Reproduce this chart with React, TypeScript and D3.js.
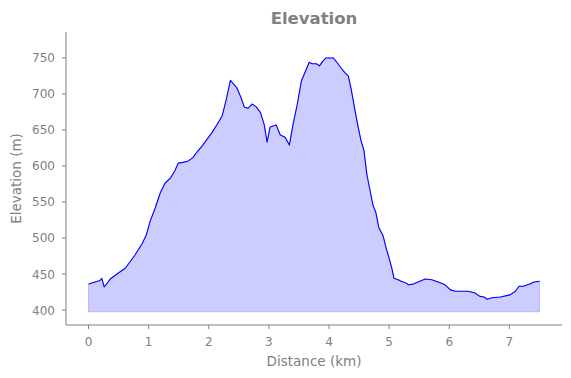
import React from "react";
import * as d3 from "d3";

const distanceKm = [0, 0.19, 0.22, 0.26, 0.36, 0.49, 0.61, 0.69, 0.77, 0.89, 0.96, 1.02, 1.11, 1.19, 1.27, 1.36, 1.44, 1.49, 1.57, 1.66, 1.74, 1.8, 1.89, 1.97, 2.05, 2.14, 2.22, 2.29, 2.36, 2.41, 2.47, 2.54, 2.59, 2.65, 2.72, 2.79, 2.86, 2.92, 2.97, 3.02, 3.12, 3.19, 3.27, 3.34, 3.4, 3.47, 3.54, 3.59, 3.67, 3.72, 3.79, 3.84, 3.9, 3.95, 4.07, 4.13, 4.2, 4.27, 4.32, 4.37, 4.43, 4.48, 4.53, 4.58, 4.63, 4.68, 4.73, 4.78, 4.83, 4.9, 4.95, 5.0, 5.05, 5.08, 5.15, 5.2, 5.27, 5.32, 5.4, 5.48, 5.6, 5.71, 5.85, 5.93, 6.02, 6.1, 6.21, 6.31, 6.42, 6.51, 6.58, 6.63, 6.71, 6.85, 7.01, 7.1, 7.16, 7.23, 7.34, 7.41, 7.5];
const elevationM = [436, 441, 444, 432, 443, 451, 458, 467, 476, 492, 504, 522, 542, 562, 576, 583, 594, 604, 605, 607, 612, 619, 628, 637, 646, 658, 669, 692, 719, 714, 708, 694, 682, 680, 686, 682, 674, 658, 633, 654, 657, 643, 640, 629, 657, 685, 718, 728, 744, 742, 742, 739, 746, 750, 750, 744, 736, 729, 725, 706, 678, 656, 636, 622, 588, 567, 546, 535, 514, 503, 486, 472, 456, 444, 442, 440, 438, 435, 436, 439, 443, 442, 438, 435, 428, 426, 426, 426, 424, 419, 418, 415, 417, 418, 421, 426, 433, 433, 436, 439, 440];
const xTicks = [0, 1, 2, 3, 4, 5, 6, 7];
const yTicks = [400, 450, 500, 550, 600, 650, 700, 750];
const baseElevation = 397.5;

const W = 571, H = 378;
const left = 66, right = 562, top = 32, bottom = 325;
const gray = "#808080";
const font = "DejaVu Sans, sans-serif";

export default function App() {
  const x = d3.scaleLinear().domain([-0.375, 7.875]).range([left, right]);
  const y = d3.scaleLinear().domain([379.2, 786]).range([bottom, top]);
  const pts = distanceKm.map((d, i) => [d, elevationM[i]] as [number, number]);
  const area = d3.area<[number, number]>().x(d => x(d[0])).y0(y(baseElevation)).y1(d => y(d[1]));
  const line = d3.line<[number, number]>().x(d => x(d[0])).y(d => y(d[1]));
  return (
    <svg width={W} height={H} style={{ position: "absolute", left: 0, top: 0 }} fontFamily={font}>
      <rect width={W} height={H} fill="white" />
      <path d={area(pts) || ""} fill="rgba(0,0,255,0.2)" stroke="rgba(0,0,255,0.2)" strokeWidth={1} />
      <path d={line(pts) || ""} fill="none" stroke="#0000ff" strokeWidth={1.1} strokeLinejoin="round" />
      <line x1={left} x2={left} y1={top} y2={bottom} stroke={gray} strokeWidth={1} />
      <line x1={left} x2={right} y1={bottom} y2={bottom} stroke={gray} strokeWidth={1} />
      {xTicks.map(t => (
        <g key={"x" + t}>
          <line x1={x(t)} x2={x(t)} y1={bottom} y2={bottom + 4} stroke={gray} />
          <text x={x(t)} y={bottom + 20.5} textAnchor="middle" fontSize={12} fill={gray}>{t}</text>
        </g>
      ))}
      {yTicks.map(t => (
        <g key={"y" + t}>
          <line x1={left - 4} x2={left} y1={y(t)} y2={y(t)} stroke={gray} />
          <text x={left - 11} y={y(t) + 4.5} textAnchor="end" fontSize={12} fill={gray}>{t}</text>
        </g>
      ))}
      <text x={(left + right) / 2} y={366} textAnchor="middle" fontSize={13.5} fill={gray}>Distance (km)</text>
      <text transform={`translate(21,${(top + bottom) / 2}) rotate(-90)`} textAnchor="middle" fontSize={13.5} fill={gray}>Elevation (m)</text>
      <text x={(left + right) / 2} y={24} textAnchor="middle" fontSize={16.5} fontWeight="bold" fill={gray}>Elevation</text>
    </svg>
  );
}
